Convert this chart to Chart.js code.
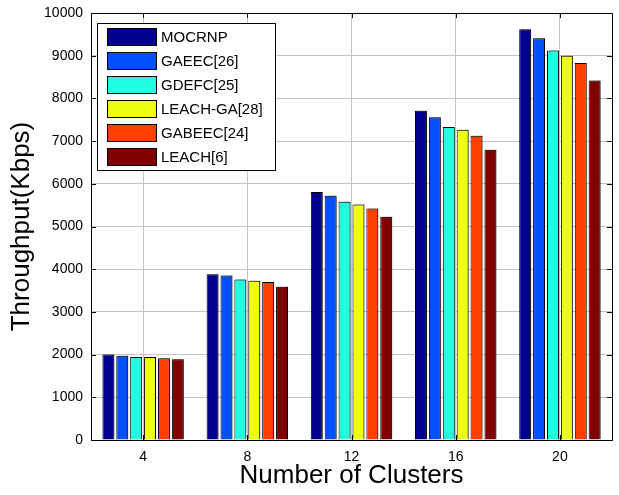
<!DOCTYPE html>
<html>
<head>
<meta charset="utf-8">
<script src="https://cdn.jsdelivr.net/npm/chart.js@4/dist/chart.umd.min.js"></script>
<style>
   html, body { margin: 0; padding: 0; background: #fff; }
</style>
</head>
<body>
<canvas id="chart" width="619" height="495"></canvas>
<script>
const clusters = ["4", "8", "12", "16", "20"]
const mocrnp = [2000, 3880, 5810, 7710, 9620]
const gaeec = [1975, 3855, 5720, 7560, 9410]
const gdefc = [1945, 3760, 5580, 7330, 9120]
const leachGa = [1945, 3730, 5515, 7265, 9000]
const gabeec = [1915, 3700, 5420, 7125, 8830]
const leach = [1890, 3590, 5230, 6800, 8420]
const yTicks = [0, 1000, 2000, 3000, 4000, 5000, 6000, 7000, 8000, 9000, 10000]

const names = ["MOCRNP", "GAEEC[26]", "GDEFC[25]", "LEACH-GA[28]", "GABEEC[24]", "LEACH[6]"]
const colors = ["#00008f", "#0050ff", "#20ffdf", "#efff10", "#ff4000", "#800000"]
const series = [mocrnp, gaeec, gdefc, leachGa, gabeec, leach]

const font = "'Liberation Sans', Arial, sans-serif"

// soft grey offset behind each bar
const barShadow = {
   id: "barShadow",
   beforeDatasetsDraw(chart) {
      const ctx = chart.ctx
      ctx.save()
      ctx.shadowColor = "rgba(0,0,0,0.3)"
      ctx.shadowOffsetX = 2
      ctx.shadowOffsetY = -1
      ctx.shadowBlur = 0
   },
   afterDatasetsDraw(chart) {
      chart.ctx.restore()
   }
}

// box around the plot with small inward ticks on every side
const frame = {
   id: "frame",
   afterDatasetsDraw(chart) {
      const {ctx, chartArea: a, scales: {x, y}} = chart
      const t = 5
      ctx.save()
      ctx.strokeStyle = "#000"
      ctx.lineWidth = 1
      ctx.beginPath()
      ctx.rect(a.left + 0.5, a.top + 0.5, a.right - a.left, a.bottom - a.top)
      yTicks.forEach(v => {
         const py = Math.round(y.getPixelForValue(v)) + 0.5
         ctx.moveTo(a.left, py); ctx.lineTo(a.left + t, py)
         ctx.moveTo(a.right, py); ctx.lineTo(a.right - t, py)
      })
      clusters.forEach((c, i) => {
         const px = Math.round(x.getPixelForValue(i)) + 0.5
         ctx.moveTo(px, a.bottom); ctx.lineTo(px, a.bottom - t)
         ctx.moveTo(px, a.top); ctx.lineTo(px, a.top + t)
      })
      ctx.stroke()
      ctx.restore()
   }
}

// legend drawn inside the plot, upper left, with a border
const boxedLegend = {
   id: "boxedLegend",
   afterDraw(chart) {
      const {ctx, chartArea: a} = chart
      const left = a.left + 6, top = a.top + 10
      const rowH = 24, first = 13.5, swW = 49, swH = 17, pad = 10
      const n = chart.data.datasets.length
      ctx.save()
      ctx.font = "15px " + font
      const textW = Math.max(...chart.data.datasets.map(d => ctx.measureText(d.label).width))
      const w = pad + swW + 5 + textW + pad + 2
      const h = first * 2 + rowH * (n - 1)
      ctx.fillStyle = "#fff"
      ctx.fillRect(left, top, w, h)
      ctx.strokeStyle = "#000"
      ctx.lineWidth = 1
      ctx.strokeRect(Math.round(left) + 0.5, Math.round(top) + 0.5, Math.round(w), Math.round(h))
      ctx.textBaseline = "middle"
      chart.data.datasets.forEach((d, i) => {
         const cy = top + first + rowH * i
         ctx.fillStyle = d.backgroundColor
         ctx.fillRect(left + pad, Math.round(cy - swH / 2), swW, swH)
         ctx.strokeRect(left + pad + 0.5, Math.round(cy - swH / 2) + 0.5, swW, swH)
         ctx.fillStyle = "#000"
         ctx.fillText(d.label, left + pad + swW + 5, cy + 1)
      })
      ctx.restore()
   }
}

new Chart(document.getElementById("chart"), {
   type: "bar",
   data: {
      labels: clusters,
      datasets: series.map((s, i) => ({
         label: names[i],
         data: s,
         backgroundColor: colors[i],
         borderColor: "#000",
         borderWidth: 1,
         categoryPercentage: 0.8,
         barPercentage: 0.86,
      }))
   },
   options: {
      responsive: false,
      animation: false,
      layout: { padding: { top: 13, right: 7, left: 0, bottom: 0 } },
      plugins: {
         legend: { display: false },
         tooltip: { enabled: false }
      },
      scales: {
         x: {
            grid: { offset: false, color: "#c4c4c4", drawTicks: false },
            border: { color: "#000" },
            ticks: { color: "#000", font: { family: font, size: 14 }, padding: 9 },
            title: {
               display: true,
               text: "Number of Clusters",
               color: "#000",
               font: { family: font, size: 26 },
               padding: { top: 0, bottom: 4 }
            },
            afterFit: s => { s.height = 55; s.paddingLeft = 0; s.paddingRight = 0 }
         },
         y: {
            min: 0,
            max: 10000,
            afterBuildTicks: s => { s.ticks = yTicks.map(v => ({ value: v })) },
            grid: { color: "#c4c4c4", drawTicks: false },
            border: { color: "#000" },
            ticks: {
               color: "#000",
               font: { family: font, size: 14 },
               padding: 8,
               callback: v => String(v)
            },
            title: {
               display: true,
               text: "Throughput(Kbps)",
               color: "#000",
               font: { family: font, size: 26 },
               padding: { top: 6, bottom: 0 }
            },
            afterFit: s => { s.width = 91; s.paddingTop = 0; s.paddingBottom = 0 }
         }
      }
   },
   plugins: [barShadow, frame, boxedLegend]
})
</script>
</body>
</html>
